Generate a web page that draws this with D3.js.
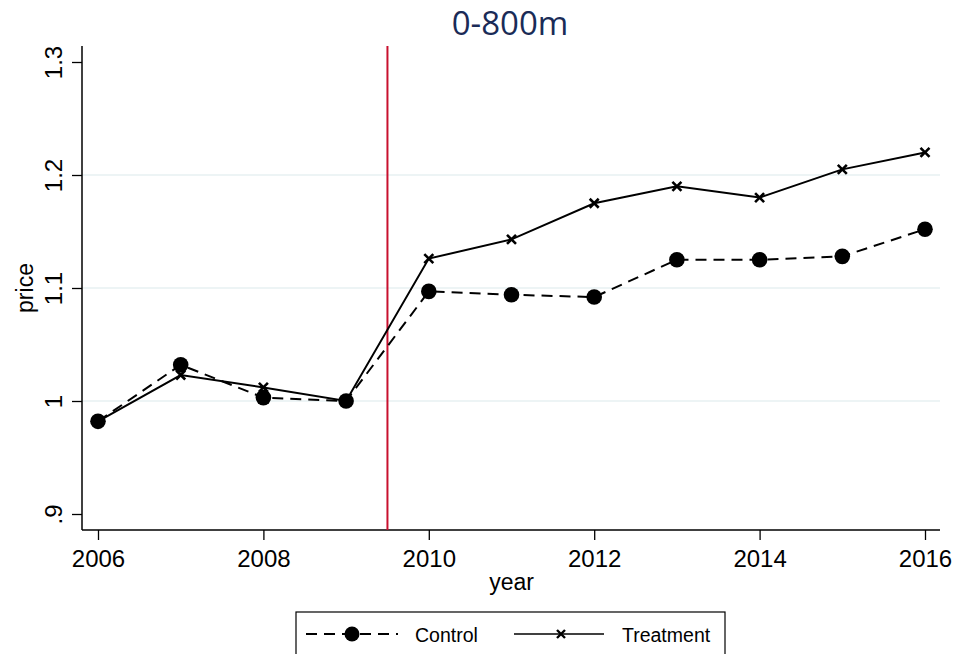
<!DOCTYPE html>
<html>
<head>
<meta charset="utf-8">
<script src="https://cdn.jsdelivr.net/npm/d3@7"></script>
<style>
  body { margin: 0; background: #fff; }
  svg { display: block; font-family: "Liberation Sans", Arial, sans-serif; }
</style>
</head>
<body>
<div id="chart"></div>
<script>
const years = [2006, 2007, 2008, 2009, 2010, 2011, 2012, 2013, 2014, 2015, 2016];
const control = [0.982, 1.032, 1.003, 1.000, 1.097, 1.094, 1.092, 1.125, 1.125, 1.128, 1.152];
const treatment = [0.982, 1.023, 1.012, 1.000, 1.126, 1.143, 1.175, 1.190, 1.180, 1.205, 1.220];
const xTicks = [2006, 2008, 2010, 2012, 2014, 2016];
const yTicks = [0.9, 1.0, 1.1, 1.2, 1.3];
const gridTicks = [1.0, 1.1, 1.2];
const policyYear = 2009.5;

const W = 957, H = 654;
const svg = d3.select('#chart').append('svg').attr('width', W).attr('height', H);

const x = d3.scaleLinear().domain([2006, 2016]).range([98, 925]);
const y = d3.scaleLinear().domain([0.9, 1.3]).range([514, 62]);
const pLeft = 82, pRight = 940, pTop = 46, pBottom = 530;

// gridlines
svg.selectAll('.grid').data(gridTicks).join('line')
  .attr('x1', pLeft).attr('x2', pRight)
  .attr('y1', d => y(d)).attr('y2', d => y(d))
  .attr('stroke', '#e7f0f2').attr('stroke-width', 1.5);

// axes
const yAxis = svg.append('g').attr('transform', `translate(${pLeft},0)`)
  .call(d3.axisLeft(y).tickValues(yTicks).tickSize(10)
    .tickFormat(d => d === 1 ? '1' : d3.format('.1f')(d).replace(/^0/, '')));
yAxis.select('.domain').attr('d', `M0,${pTop}V${pBottom}`).attr('stroke-width', 1.5);
yAxis.selectAll('.tick line').attr('stroke-width', 1.3);
yAxis.selectAll('.tick text')
  .attr('font-size', 24).attr('fill', '#000')
  .attr('font-family', '"Liberation Sans", Arial, sans-serif')
  .attr('transform', 'rotate(-90)')
  .attr('x', 0).attr('y', -20)
  .attr('text-anchor', 'middle').attr('dy', 0);

const xAxis = svg.append('g').attr('transform', `translate(0,${pBottom})`)
  .call(d3.axisBottom(x).tickValues(xTicks).tickSize(10).tickFormat(d3.format('d')));
xAxis.select('.domain').attr('d', `M${pLeft},0H${pRight}`).attr('stroke-width', 1.5);
xAxis.selectAll('.tick line').attr('stroke-width', 1.3);
xAxis.selectAll('.tick text').attr('font-size', 24).attr('fill', '#000')
  .attr('font-family', '"Liberation Sans", Arial, sans-serif')
  .attr('y', 37).attr('dy', 0);

// axis titles
svg.append('text').attr('x', x(2011)).attr('y', 590).attr('text-anchor', 'middle')
  .attr('font-size', 23).text('year');
svg.append('text').attr('transform', `translate(33,${y(1.1)}) rotate(-90)`)
  .attr('text-anchor', 'middle').attr('font-size', 23).text('price');

// title
svg.append('text').attr('x', 510).attr('y', 35).attr('text-anchor', 'middle')
  .attr('font-size', 33).attr('fill', '#1a2b57')
  .attr('font-family', '"Open Sans", "Liberation Sans", sans-serif').text('0-800m');

// policy line
svg.append('line').attr('x1', x(policyYear)).attr('x2', x(policyYear))
  .attr('y1', pTop).attr('y2', pBottom)
  .attr('stroke', '#c8102e').attr('stroke-width', 2);

const line = d3.line().x((d, i) => x(years[i])).y(d => y(d));

// control
svg.append('path').datum(control).attr('d', line)
  .attr('fill', 'none').attr('stroke', '#000').attr('stroke-width', 2)
  .attr('stroke-dasharray', '11,7');
svg.selectAll('.cpt').data(control).join('circle')
  .attr('cx', (d, i) => x(years[i])).attr('cy', d => y(d)).attr('r', 7.8).attr('fill', '#000');

// treatment
svg.append('path').datum(treatment).attr('d', line)
  .attr('fill', 'none').attr('stroke', '#000').attr('stroke-width', 2);
const xs = 4.5;
svg.selectAll('.tpt').data(treatment).join('path')
  .attr('d', (d, i) => {
    const cx = x(years[i]), cy = y(d);
    return `M${cx - xs},${cy - xs}L${cx + xs},${cy + xs}M${cx - xs},${cy + xs}L${cx + xs},${cy - xs}`;
  })
  .attr('stroke', '#000').attr('stroke-width', 2.6).attr('fill', 'none');

// legend
const lg = svg.append('g');
lg.append('rect').attr('x', 296).attr('y', 612).attr('width', 429).attr('height', 50)
  .attr('fill', '#fff').attr('stroke', '#000').attr('stroke-width', 1.2);
lg.append('line').attr('x1', 306).attr('x2', 398).attr('y1', 634).attr('y2', 634)
  .attr('stroke', '#000').attr('stroke-width', 2).attr('stroke-dasharray', '11,7');
lg.append('circle').attr('cx', 352).attr('cy', 634).attr('r', 7.5).attr('fill', '#000');
lg.append('text').attr('x', 415).attr('y', 642).attr('font-size', 19.5).text('Control');
lg.append('line').attr('x1', 514).attr('x2', 604).attr('y1', 634).attr('y2', 634)
  .attr('stroke', '#000').attr('stroke-width', 1.6);
lg.append('path')
  .attr('d', `M${561 - 4},${634 - 4}L${561 + 4},${634 + 4}M${561 - 4},${634 + 4}L${561 + 4},${634 - 4}`)
  .attr('stroke', '#000').attr('stroke-width', 2.4);
lg.append('text').attr('x', 622).attr('y', 642).attr('font-size', 19.5).text('Treatment');
</script>
</body>
</html>
